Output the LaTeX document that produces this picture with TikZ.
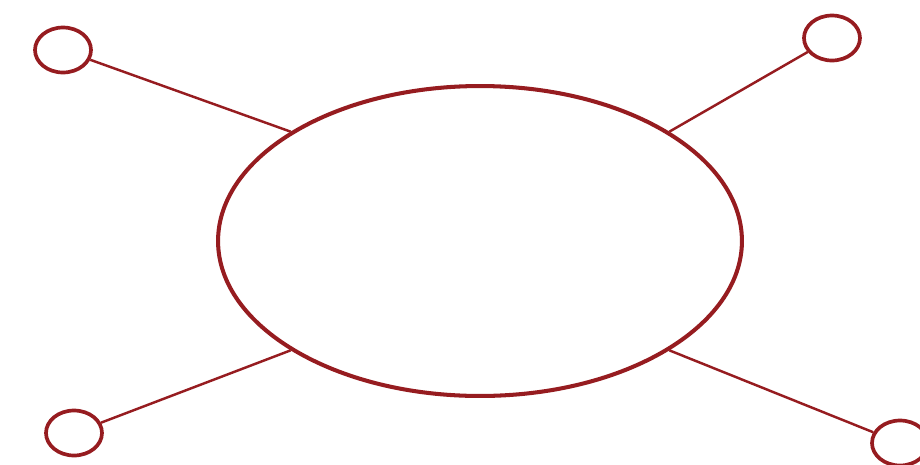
\documentclass[tikz,border=0pt]{standalone}
\usepackage{tikz}
\usepackage{xcolor}
\usetikzlibrary{shapes.geometric, positioning}
\definecolor{cRed}{RGB}{150,28,32}
\tikzset{
	hubshape/.style ={ellipse, draw=cRed, line width=2.3pt, minimum width=10.48cm, minimum height=6.2cm, inner sep=0pt},
	leafshape/.style={ellipse, draw=cRed, line width=2.1pt, minimum width=1.12cm, minimum height=0.9cm, inner sep=0pt},
	spoke/.style    ={draw=cRed, line width=1.4pt},
}
\begin{document}
\begin{tikzpicture}[x=0.02cm, y=-0.02cm]
	\useasboundingbox (0,0) rectangle (920,464);
	\node[hubshape] (hub) at (480,241) {};
	\node[leafshape] (tl) at (63,50) {};
	\node[leafshape] (tr) at (832,38) {};
	\node[leafshape] (bl) at (74,433) {};
	\node[leafshape] (br) at (900,443) {};
	\draw[spoke] (hub.150) -- (tl);
	\draw[spoke] (hub.30) -- (tr);
	\draw[spoke] (hub.210) -- (bl);
	\draw[spoke] (hub.330) -- (br);
\end{tikzpicture}
\end{document}
